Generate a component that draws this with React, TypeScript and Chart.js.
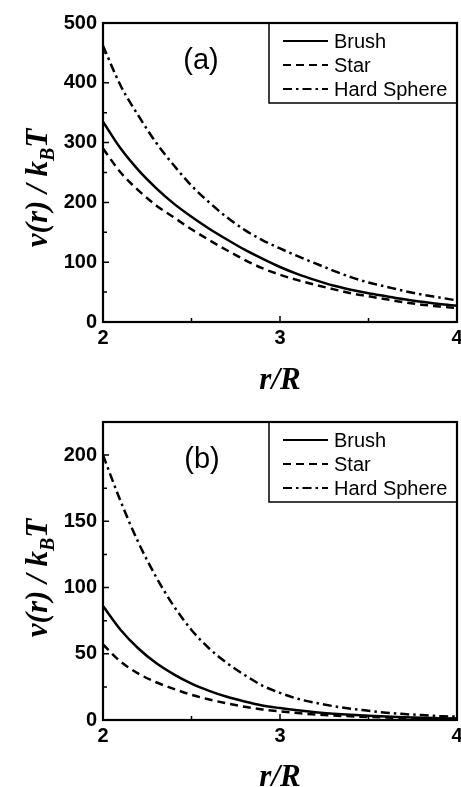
import React, { useEffect, useRef } from "react";
import { Chart, registerables } from "chart.js";

Chart.register(...registerables);

// ---------- data ----------
const rValues = [2.0, 2.1, 2.2, 2.3, 2.4, 2.5, 2.6, 2.7, 2.8, 2.9, 3.0, 3.1, 3.2, 3.3, 3.4, 3.5, 3.6, 3.7, 3.8, 3.9, 4.0];

const seriesLabels = ["Brush", "Star", "Hard Sphere"];

// panel (a)
const brushA = [335, 290, 254, 224, 198, 176, 156, 138, 121, 106, 92, 80, 70, 61, 54, 48, 43, 38, 34, 30, 27];
const starA = [290, 250, 220, 195, 175, 155, 137, 120, 104, 90, 79, 70, 62, 55, 48, 43, 38, 33, 29, 26, 23];
const hardA = [462, 395, 345, 300, 262, 228, 200, 175, 154, 137, 123, 110, 98, 86, 75, 66, 59, 52, 46, 41, 36];

// panel (b)
const brushB = [86, 68, 54, 43, 34.5, 27.5, 22, 17.5, 14, 11, 9, 7.3, 5.9, 4.8, 3.9, 3.2, 2.6, 2.1, 1.7, 1.4, 1.1];
const starB = [57, 44, 35, 28.5, 23.5, 19, 15.5, 12.5, 10, 8, 6.5, 5.2, 4.2, 3.4, 2.8, 2.3, 1.9, 1.5, 1.2, 1.0, 0.8];
const hardB = [200, 165, 134, 108, 86, 68, 54, 43, 34, 26, 20.5, 16, 13, 10.5, 8.5, 7, 5.5, 4.5, 3.7, 3, 2.5];

const panelLabels = ["(a)", "(b)"];
const xAxisTitle = "r/R";
const yTitleMain = "v(r) / k";
const yTitleSub = "B";
const yTitleEnd = "T";

const xMin = 2, xMax = 4, xStep = 0.5, xLabelEvery = 1;
const yMaxA = 500, yStepA = 50, yLabelEveryA = 100;
const yMaxB = 225, yStepB = 25, yLabelEveryB = 50;

const lineDashes: number[][] = [[], [8, 5], [9, 4, 2.5, 4]];

// ---------- chart ----------
type PanelCfg = {
  width: number;
  height: number;
  padTop: number;
  plotBottom: number;
  yMax: number;
  yStep: number;
  yLabelEvery: number;
  series: number[][];
  panel: string;
  panelPos: [number, number];
  yTitleCenter: number;
  xTitleBaseline: number;
};

const TICK_FONT = "bold 20px 'Liberation Sans', Arial, sans-serif";

function isMajorX(v: number) {
  return Math.abs(v / xLabelEvery - Math.round(v / xLabelEvery)) < 1e-6;
}

function overlay(cfg: PanelCfg) {
  return {
    id: "overlay",
    afterDraw(chart: any) {
      const ctx: CanvasRenderingContext2D = chart.ctx;
      const a = chart.chartArea;
      const xs = chart.scales.x;
      const ys = chart.scales.y;
      ctx.save();
      ctx.strokeStyle = "#000";
      ctx.fillStyle = "#000";
      ctx.setLineDash([]);
      // inward ticks
      ctx.lineWidth = 1.5;
      ctx.beginPath();
      xs.ticks.forEach((t: any) => {
        const px = xs.getPixelForValue(t.value);
        const len = isMajorX(t.value) ? 6 : 4;
        ctx.moveTo(px, a.bottom);
        ctx.lineTo(px, a.bottom - len);
      });
      ys.ticks.forEach((t: any) => {
        const py = ys.getPixelForValue(t.value);
        const len = t.value % cfg.yLabelEvery === 0 ? 6 : 4;
        ctx.moveTo(a.left, py);
        ctx.lineTo(a.left + len, py);
      });
      ctx.stroke();
      // x tick labels from the scale's ticks
      ctx.font = TICK_FONT;
      ctx.textAlign = "center";
      ctx.textBaseline = "alphabetic";
      xs.ticks.forEach((t: any) => {
        if (!isMajorX(t.value)) return;
        ctx.fillText(String(Math.round(t.value)), xs.getPixelForValue(t.value), a.bottom + 22);
      });
      // frame
      ctx.lineWidth = 2.2;
      ctx.strokeRect(a.left, a.top, a.right - a.left, a.bottom - a.top);

      // legend
      const boxW = 188, boxH = 80;
      const bx = a.right - boxW, by = a.top;
      ctx.lineWidth = 1.5;
      ctx.strokeRect(bx, by, boxW, boxH);
      ctx.font = "20px 'Liberation Sans', Arial, sans-serif";
      ctx.textBaseline = "middle";
      ctx.textAlign = "left";
      const rows = [18, 42, 66];
      chart.data.datasets.forEach((ds: any, i: number) => {
        const yy = by + rows[i];
        ctx.save();
        ctx.lineWidth = 2.2;
        ctx.setLineDash(ds.borderDash || []);
        ctx.beginPath();
        ctx.moveTo(bx + 14, yy);
        ctx.lineTo(bx + 59, yy);
        ctx.stroke();
        ctx.restore();
        ctx.fillText(ds.label, bx + 65, yy + 1);
      });

      // panel label
      ctx.font = "29px 'Liberation Sans', Arial, sans-serif";
      ctx.textAlign = "center";
      ctx.textBaseline = "middle";
      ctx.fillText(cfg.panel, cfg.panelPos[0], cfg.panelPos[1]);

      // x title
      ctx.font = "bold italic 31px 'Liberation Serif', 'Times New Roman', serif";
      ctx.textAlign = "center";
      ctx.textBaseline = "alphabetic";
      ctx.fillText(xAxisTitle, (a.left + a.right) / 2, cfg.xTitleBaseline);

      // y title (rotated, with subscript)
      ctx.translate(47, cfg.yTitleCenter);
      ctx.rotate(-Math.PI / 2);
      const fMain = "bold italic 31px 'Liberation Serif', 'Times New Roman', serif";
      const fSub = "bold italic 20px 'Liberation Serif', 'Times New Roman', serif";
      ctx.font = fMain;
      const w1 = ctx.measureText(yTitleMain).width;
      const w3 = ctx.measureText(yTitleEnd).width;
      ctx.font = fSub;
      const w2 = ctx.measureText(yTitleSub).width;
      const total = w1 + w2 + w3;
      let x0 = -total / 2;
      ctx.textAlign = "left";
      ctx.font = fMain;
      ctx.fillText(yTitleMain, x0, 0);
      x0 += w1;
      ctx.font = fSub;
      ctx.fillText(yTitleSub, x0, 7);
      x0 += w2;
      ctx.font = fMain;
      ctx.fillText(yTitleEnd, x0, 0);
      ctx.restore();
    },
  };
}

function Panel({ cfg }: { cfg: PanelCfg }) {
  const ref = useRef<HTMLCanvasElement | null>(null);
  useEffect(() => {
    if (!ref.current) return;
    const datasets = cfg.series.map((vals, i) => ({
      label: seriesLabels[i],
      data: rValues.map((r, j) => ({ x: r, y: vals[j] })),
      borderColor: "#000",
      backgroundColor: "#000",
      borderWidth: 2.5,
      borderDash: lineDashes[i],
      pointRadius: 0,
      cubicInterpolationMode: "monotone" as const,
      fill: false,
    }));
    const tickFont = { family: "'Liberation Sans', Arial, sans-serif", size: 20, weight: "bold" as const };
    const chart = new Chart(ref.current, {
      type: "line",
      data: { datasets },
      options: {
        animation: false,
        responsive: false,
        maintainAspectRatio: false,
        layout: { padding: { top: cfg.padTop, right: 4, left: 0, bottom: 0 } },
        plugins: { legend: { display: false }, tooltip: { enabled: false } },
        scales: {
          x: {
            type: "linear",
            min: xMin,
            max: xMax,
            grid: { display: false, drawTicks: false },
            border: { display: false },
            ticks: { stepSize: xStep, autoSkip: false, display: false },
            afterFit: (s: any) => {
              s.height = cfg.height - cfg.plotBottom;
            },
          },
          y: {
            type: "linear",
            min: 0,
            max: cfg.yMax,
            grid: { display: false, drawTicks: false },
            border: { display: false },
            ticks: {
              stepSize: cfg.yStep,
              autoSkip: false,
              color: "#000",
              font: tickFont,
              padding: 6,
              callback: (v: any) => (v % cfg.yLabelEvery === 0 ? String(v) : ""),
            },
            afterFit: (s: any) => {
              s.width = 103;
            },
          },
        },
      },
      plugins: [overlay(cfg)],
    });
    return () => chart.destroy();
  }, [cfg]);
  return <canvas ref={ref} width={cfg.width} height={cfg.height} style={{ width: cfg.width, height: cfg.height, display: "block" }} />;
}

const cfgA: PanelCfg = {
  width: 461,
  height: 395,
  padTop: 23,
  plotBottom: 322,
  yMax: yMaxA,
  yStep: yStepA,
  yLabelEvery: yLabelEveryA,
  series: [brushA, starA, hardA],
  panel: panelLabels[0],
  panelPos: [201, 61],
  yTitleCenter: 188,
  xTitleBaseline: 389,
};

const cfgB: PanelCfg = {
  width: 461,
  height: 392,
  padTop: 27,
  plotBottom: 325,
  yMax: yMaxB,
  yStep: yStepB,
  yLabelEvery: yLabelEveryB,
  series: [brushB, starB, hardB],
  panel: panelLabels[1],
  panelPos: [202, 65],
  yTitleCenter: 183,
  xTitleBaseline: 391,
};

export default function App() {
  return (
    <div style={{ position: "absolute", left: 0, top: 0, width: 461, height: 787, background: "#fff" }}>
      <div style={{ position: "absolute", left: 0, top: 0 }}>
        <Panel cfg={cfgA} />
      </div>
      <div style={{ position: "absolute", left: 0, top: 395 }}>
        <Panel cfg={cfgB} />
      </div>
    </div>
  );
}
